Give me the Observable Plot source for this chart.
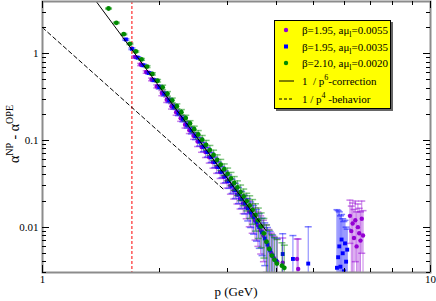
<!DOCTYPE html>
<html><head><meta charset="utf-8">
<script src="https://cdn.jsdelivr.net/npm/d3@7"></script>
<script src="https://cdn.jsdelivr.net/npm/@observablehq/plot@0.6"></script>
<style>body{margin:0;background:#fff}</style>
</head><body><div id="chart"></div>
<script>
// [p (GeV), alpha^NP - alpha^OPE, error]
const purple = [
[1.73,0.92,0.028],[1.79,0.75,0.022],[1.85,0.615,0.020],[1.91,0.505,0.018],[1.97,0.42,0.017],
[2.03,0.352,0.024],[2.09,0.295,0.021],[2.15,0.248,0.018],[2.21,0.211,0.016],[2.27,0.180,0.014],
[2.33,0.152,0.013],[2.39,0.131,0.011],[2.45,0.113,0.010],[2.51,0.097,0.012],[2.57,0.084,0.011],
[2.63,0.0735,0.010],[2.69,0.064,0.0092],[2.75,0.0562,0.0084],[2.81,0.0493,0.0076],[2.87,0.0433,0.0069],
[2.93,0.0382,0.0062],[2.99,0.0338,0.0056],[3.05,0.0300,0.0060],[3.11,0.0266,0.0055],[3.17,0.0237,0.0052],
[3.23,0.0211,0.0049],[3.29,0.0189,0.0046],[3.35,0.0169,0.0044],[3.41,0.0151,0.0050],[3.47,0.0135,0.0050],
[3.53,0.0119,0.0048],[3.59,0.0105,0.0045],[3.65,0.0092,0.0043],[3.71,0.0080,0.0040],[3.77,0.0068,0.0038],
[3.83,0.0058,0.0036],[3.89,0.0050,0.0035],[3.95,0.0044,0.0034],[4.03,0.0040,0.0033],[4.16,0.0039,0.0036],
[4.53,0.0043,0.0030],[4.56,0.0033,0.0040],
[6.20,0.0135,0.0070],[6.25,0.0090,0.0085],[6.30,0.0110,0.0080],[6.35,0.0075,0.0085],[6.40,0.0120,0.0080],
[6.45,0.0060,0.0090],[6.50,0.0100,0.0085],[6.55,0.0085,0.0080],[6.60,0.0070,0.0080],[6.65,0.0125,0.0075],
[6.70,0.0080,0.0075]
];
const blue = [
[1.64,1.46,0.03],[1.70,1.14,0.025],[1.76,0.90,0.022],[1.82,0.735,0.020],[1.88,0.60,0.018],
[1.94,0.495,0.016],[2.00,0.412,0.021],[2.06,0.345,0.019],[2.12,0.290,0.017],[2.18,0.244,0.015],
[2.24,0.207,0.014],[2.30,0.177,0.013],[2.36,0.151,0.012],[2.42,0.130,0.011],[2.48,0.112,0.0098],
[2.54,0.097,0.011],[2.60,0.0845,0.0102],[2.66,0.0735,0.0093],[2.72,0.0642,0.0085],[2.78,0.0563,0.0078],
[2.84,0.0494,0.0071],[2.90,0.0435,0.0065],[2.96,0.0385,0.0060],[3.02,0.0340,0.0060],[3.08,0.0301,0.0056],
[3.14,0.0267,0.0053],[3.20,0.0237,0.0050],[3.26,0.0211,0.0047],[3.32,0.0187,0.0045],[3.38,0.0166,0.0048],
[3.44,0.0147,0.0048],[3.50,0.0130,0.0047],[3.56,0.0114,0.0045],[3.62,0.0100,0.0043],[3.68,0.0087,0.0040],
[3.74,0.0074,0.0038],[3.80,0.0063,0.0036],[3.86,0.0054,0.0035],[3.92,0.0047,0.0034],[4.00,0.0041,0.0034],
[4.16,0.0049,0.0035],[4.42,0.0043,0.0037],[4.84,0.0038,0.0063],
[5.74,0.0034,0.0125],[5.78,0.0045,0.0110],[5.82,0.0060,0.0090],[5.86,0.0035,0.0100],[5.90,0.0072,0.0068],
[5.94,0.0050,0.0075],[5.98,0.0031,0.0085],[6.02,0.0065,0.0055],[6.06,0.0040,0.0060],[6.10,0.0055,0.0040]
];
const green = [
[1.48,3.32,0.05],[1.55,2.27,0.04],[1.62,1.68,0.03],[1.68,1.30,0.025],[1.74,1.06,0.022],
[1.80,0.86,0.020],[1.86,0.71,0.018],[1.92,0.585,0.017],[1.98,0.488,0.016],[2.04,0.41,0.024],
[2.10,0.345,0.021],[2.16,0.29,0.018],[2.22,0.248,0.016],[2.28,0.212,0.015],[2.34,0.181,0.014],
[2.40,0.157,0.012],[2.46,0.135,0.011],[2.52,0.117,0.013],[2.58,0.102,0.012],[2.64,0.089,0.011],
[2.70,0.0775,0.010],[2.76,0.068,0.0092],[2.82,0.0598,0.0084],[2.88,0.0527,0.0077],[2.94,0.0466,0.0070],
[3.00,0.0412,0.0068],[3.06,0.0365,0.0063],[3.12,0.0324,0.0059],[3.18,0.0287,0.0055],[3.24,0.0254,0.0052],
[3.30,0.0226,0.0049],[3.36,0.0200,0.0046],[3.42,0.0178,0.0052],[3.48,0.0158,0.0050],[3.54,0.0138,0.0048],
[3.60,0.0120,0.0046],[3.66,0.0102,0.0044],[3.72,0.0085,0.0041],[3.78,0.0068,0.0038],[3.84,0.0056,0.0036],
[3.90,0.0047,0.0035],[3.96,0.0042,0.0034],[4.02,0.0038,0.0034],[4.14,0.0036,0.0030],[4.20,0.0034,0.0028]
];
// fitted curves [p, value]
const fitP6 = [[1.37,4.1],[3.77,0.0091]];
const fitP4 = [[1.0,2.0],[2.95,0.0265]];
const cutP = [1.7];
// ticks
const xMajor = [1,10];
const xMinor = [2,3,4,5,6,7,8,9];
const yMajor = [0.01,0.1,1];
const yMinor = [0.003,0.004,0.005,0.006,0.007,0.008,0.009,0.02,0.03,0.04,0.05,0.06,0.07,0.08,0.09,0.2,0.3,0.4,0.5,0.6,0.7,0.8,0.9,2,3];
// legend
const legendBeta = ["β=1.95, aμ","β=1.95, aμ","β=2.10, aμ"];
const legendMass = ["=0.0055","=0.0035","=0.0020"];
const colors = ["#9400d3","#0000ff","#008b00"];

const capSymbol = {draw(ctx, size){ const w = Math.sqrt(size/Math.PI); ctx.moveTo(-w,0); ctx.lineTo(w,0); }};
const lo = d => Math.max(d[1]-d[2], 0.0005);
const hi = d => d[1]+d[2];

function seriesMarks(data, color, symbol, r){
  return [
    Plot.ruleX(data, {x: d=>d[0], y1: lo, y2: hi, stroke: color, strokeOpacity: 0.5, clip: true}),
    Plot.dot(data, {x: d=>d[0], y: lo, symbol: capSymbol, r: 3.5, stroke: color, strokeOpacity: 0.5, clip: true}),
    Plot.dot(data, {x: d=>d[0], y: hi, symbol: capSymbol, r: 3.5, stroke: color, strokeOpacity: 0.5, clip: true}),
    Plot.dot(data, {x: d=>d[0], y: d=>d[1], symbol, r, fill: color, stroke: "none", clip: true})
  ];
}

const chart = Plot.plot({
  width: 436, height: 301,
  marginLeft: 42, marginRight: 6, marginTop: 1, marginBottom: 29,
  x: {type: "log", domain: [1,10]},
  y: {type: "log", domain: [0.003,4]},
  style: {fontFamily: "'Liberation Serif', serif", fontSize: "11px", background: "white", color: "black"},
  marks: [
    Plot.ruleX(cutP, {stroke: "#ff0000", strokeDasharray: "3,2", strokeWidth: 1}),
    ...seriesMarks(purple, colors[0], "circle", 2.2),
    ...seriesMarks(blue, colors[1], "square", 2.2),
    ...seriesMarks(green, colors[2], "circle", 2.4),
    Plot.line(fitP6, {x: d=>d[0], y: d=>d[1], stroke: "black", strokeWidth: 1, clip: true}),
    Plot.line(fitP4, {x: d=>d[0], y: d=>d[1], stroke: "black", strokeWidth: 1, strokeDasharray: "4,3", clip: true}),
    Plot.frame({stroke: "#8c8c8c", strokeWidth: 2}),
    Plot.axisX(xMajor, {tickSize: 0, tickPadding: 3, tickFormat: d=>String(d), label: null}),
    Plot.axisY(yMajor, {tickSize: 0, tickPadding: 4, tickFormat: d=>String(d), label: null})
  ]
});
document.getElementById("chart").appendChild(chart);

const xs = chart.scale("x"), ys = chart.scale("y");
const [L, R] = xs.range; const [B, T] = ys.range;
const svg = d3.select(chart);
const tg = svg.append("g").attr("stroke","#000").attr("stroke-width",1);
function hTick(v, len){ const y = Math.round(ys.apply(v))+0.5;
  tg.append("line").attr("x1",L).attr("x2",L+len).attr("y1",y).attr("y2",y);
  tg.append("line").attr("x1",R).attr("x2",R-len).attr("y1",y).attr("y2",y); }
function vTick(v, len){ const x = Math.round(xs.apply(v))+0.5;
  tg.append("line").attr("x1",x).attr("x2",x).attr("y1",B).attr("y2",B-len);
  tg.append("line").attr("x1",x).attr("x2",x).attr("y1",T).attr("y2",T+len); }
yMajor.forEach(v=>hTick(v,7)); yMinor.forEach(v=>hTick(v,4));
xMajor.forEach(v=>vTick(v,7)); xMinor.forEach(v=>vTick(v,4));

const font = "'Liberation Serif', serif";
// axis titles
svg.append("text").attr("x",(L+R)/2).attr("y",296).attr("text-anchor","middle")
  .style("font-family",font).style("font-size","13px").text("p (GeV)");
const yl = svg.append("text").attr("transform","translate(19,134) rotate(-90)").attr("text-anchor","middle")
  .style("font-family",font).style("font-size","14px");
yl.append("tspan").text("α");
yl.append("tspan").attr("dy",-6).style("font-size","10px").text("NP");
yl.append("tspan").attr("dy",6).text(" - α");
yl.append("tspan").attr("dy",-6).style("font-size","10px").text("OPE");

// legend
const lg = svg.append("g").attr("text-anchor","start").style("font-family",font).style("font-size","11px");
lg.append("rect").attr("x",276).attr("y",22).attr("width",117).attr("height",89).attr("fill","#666");
lg.append("rect").attr("x",274.5).attr("y",20.5).attr("width",116).attr("height",88).attr("fill","#ffff00").attr("stroke","#000");
const rowsY = [30,46.5,63,81,99];
legendBeta.forEach((t,i)=>{
  const y = rowsY[i];
  if (i===1) lg.append("rect").attr("x",284).attr("y",y-2).attr("width",4).attr("height",4).attr("fill",colors[i]);
  else lg.append("circle").attr("cx",286).attr("cy",y).attr("r",2.2).attr("fill",colors[i]);
  const tx = lg.append("text").attr("x",302).attr("y",y+4);
  tx.append("tspan").text(t);
  tx.append("tspan").attr("dy",3).style("font-size","8px").text("l");
  tx.append("tspan").attr("dy",-3).text(legendMass[i]);
});
lg.append("line").attr("x1",279).attr("x2",294).attr("y1",rowsY[3]).attr("y2",rowsY[3]).attr("stroke","#000");
lg.append("line").attr("x1",279).attr("x2",294).attr("y1",rowsY[4]).attr("y2",rowsY[4]).attr("stroke","#000").attr("stroke-dasharray","3,2");
const t6 = lg.append("text").attr("x",302).attr("y",rowsY[3]+4);
t6.append("tspan").text("1  / p");
t6.append("tspan").attr("dy",-5).style("font-size","8px").text("6");
t6.append("tspan").attr("dy",5).text("-correction");
const t4 = lg.append("text").attr("x",302).attr("y",rowsY[4]+4);
t4.append("tspan").text("1 / p");
t4.append("tspan").attr("dy",-5).style("font-size","8px").text("4");
t4.append("tspan").attr("dy",5).text(" -behavior");
</script>
</body></html>
